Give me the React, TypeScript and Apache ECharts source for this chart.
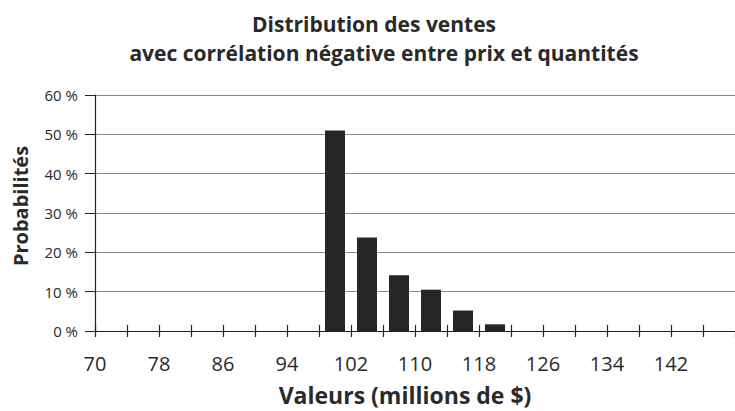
import React, { useEffect, useRef } from "react";
import * as echarts from "echarts";

const titleLines = ["Distribution des ventes", "avec corrélation négative entre prix et quantités"];
const xAxisName = "Valeurs (millions de $)";
const yAxisName = "Probabilités";
const xStart = 70;
const xEnd = 150;
const binWidth = 4;
const labelStep = 8;
const binCenters = [100, 104, 108, 112, 116, 120];
const probabilities = [51.0, 23.8, 14.2, 10.5, 5.2, 1.7];
const yMax = 60;
const yStep = 10;

const FONT = "'Open Sans', Lato, sans-serif";

export default function App() {
  const ref = useRef<HTMLDivElement>(null);
  useEffect(() => {
    if (!ref.current) return;
    const chart = echarts.init(ref.current, undefined, { renderer: "svg" });
    const span = xEnd - xStart;
    const xLabel = (v: number) => {
      const r = Math.round(v);
      if (r % labelStep !== 0 || r >= span) return "";
      return String(r + xStart);
    };
    const titleStyle = {
      fontFamily: FONT,
      fontSize: 21,
      fontWeight: "bold",
      color: "#2a2a2a",
    };
    chart.setOption({
      animation: false,
      backgroundColor: "#fff",
      textStyle: { fontFamily: FONT },
      title: [
        { text: titleLines[0], left: 369, top: 8, textAlign: "center", textStyle: titleStyle },
        { text: titleLines[1], left: 379, top: 37, textAlign: "center", textStyle: titleStyle },
      ],
      grid: { left: 95, right: -3, top: 95, bottom: 79, containLabel: false },
      xAxis: [
        {
          type: "value",
          min: 0,
          max: span,
          interval: binWidth,
          name: xAxisName,
          nameLocation: "middle",
          nameGap: 52,
          nameTextStyle: {
            fontFamily: FONT,
            fontSize: 23,
            fontWeight: "bold",
            color: "#2a2a2a",
            padding: [0, 20, 0, 0],
          },
          axisLine: { show: true, lineStyle: { color: "#222", width: 1.2 } },
          axisTick: { show: true, inside: true, length: 6, lineStyle: { color: "#222", width: 1.2 } },
          axisLabel: {
            formatter: xLabel,
            fontFamily: FONT,
            fontSize: 20,
            color: "#2a2a2a",
            margin: 22,
            showMaxLabel: false,
          },
          splitLine: { show: false },
        },
        {
          type: "value",
          min: 0,
          max: span,
          interval: binWidth,
          position: "bottom",
          axisLine: { show: false },
          axisTick: { show: true, inside: false, length: 6, lineStyle: { color: "#222", width: 1.2 } },
          axisLabel: { show: false },
          splitLine: { show: false },
        },
      ],
      yAxis: {
        type: "value",
        min: 0,
        max: yMax,
        interval: yStep,
        name: yAxisName,
        nameLocation: "middle",
        nameGap: 65,
        nameRotate: 90,
        nameTextStyle: {
          fontFamily: FONT,
          fontSize: 20,
          fontWeight: "bold",
          color: "#2a2a2a",
          padding: [0, 0, 0, 14],
        },
        axisLine: { show: true, lineStyle: { color: "#222", width: 1.2 } },
        axisTick: { show: true, length: 10, lineStyle: { color: "#222", width: 1 } },
        axisLabel: {
          formatter: (v: number) => `${v} %`,
          fontFamily: FONT,
          fontSize: 15,
          color: "#2a2a2a",
          margin: 17,
        },
        splitLine: { show: true, lineStyle: { color: "#8a8a8a", width: 1 } },
      },
      series: [
        {
          type: "bar",
          xAxisIndex: 0,
          barWidth: 20,
          itemStyle: { color: "#262626" },
          data: binCenters.map((c, i) => [c - xStart, probabilities[i]]),
        },
      ],
    });
    return () => chart.dispose();
  }, []);
  return (
    <div
      ref={ref}
      style={{ position: "fixed", left: 0, top: 0, width: 735, height: 411 }}
    />
  );
}
